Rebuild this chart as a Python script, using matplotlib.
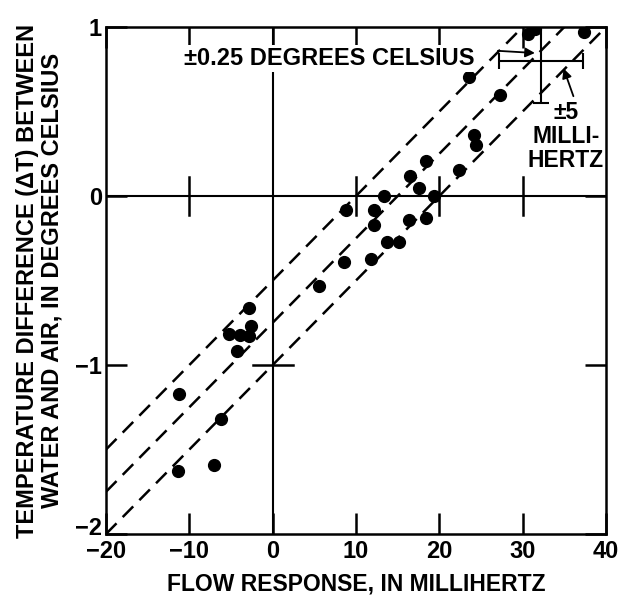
import matplotlib
matplotlib.use("Agg")
import matplotlib.pyplot as plt
import matplotlib.transforms as mtransforms

plt.rcParams['font.family'] = ['Liberation Sans', 'DejaVu Sans']
plt.rcParams['font.weight'] = 'bold'
plt.rcParams['axes.labelweight'] = 'bold'

# Observed points (flow response in mHz, temperature difference in deg C)
flow = [30.6, 31.5, 37.3, 23.6, 27.3, 24.1, 24.4, 22.3, 18.4, 16.5,
        17.5, 13.4, 19.4, 8.8, 12.1, 12.1, 16.3, 18.4, 13.7, 15.2,
        8.5, 11.8, 5.5, -2.9, -2.6, -5.2, -3.9, -2.8, -4.3, -11.3,
        -6.2, -11.4, -7.0]
dtemp = [0.96, 0.99, 0.97, 0.705, 0.595, 0.36, 0.30, 0.156, 0.21, 0.116,
         0.05, 0.0, 0.0, -0.08, -0.08, -0.17, -0.14, -0.13, -0.27, -0.27,
         -0.39, -0.375, -0.53, -0.665, -0.77, -0.815, -0.82, -0.83, -0.92, -1.17,
         -1.32, -1.63, -1.59]

# Reference lines: dT = slope * flow + offset
slope = 0.05
offsets = [-0.5, -0.75, -1.0]
line_x = [-20, 40]

x_ticks = [-20, -10, 0, 10, 20, 30, 40]
y_ticks = [-2, -1, 0, 1]

fig = plt.figure(figsize=(6.24, 5.98), dpi=100)
ax = fig.add_axes([106 / 624, 1 - 534 / 598, 500 / 624, 507 / 598])

for off in offsets:
    ax.plot(line_x, [slope * x + off for x in line_x], color='black',
            lw=1.8, dashes=(6, 3.5), zorder=2)

# zero lines with crossing ticks
ax.axhline(0, color='black', lw=1.5, zorder=1)
ax.axvline(0, color='black', lw=1.5, zorder=1)
for xt in [-10, 10, 20, 30]:
    ax.plot([xt, xt], [-0.11, 0.11], color='black', lw=1.8, zorder=1)
ax.plot([-2.4, 2.4], [-1, -1], color='black', lw=1.8, zorder=1)

ax.plot(flow, dtemp, 'o', color='black', ms=8.5, zorder=3)

# error bar symbol
ax.errorbar(32.2, 0.80, xerr=5, yerr=0.25, color='black', lw=1.5,
            capsize=6, capthick=1.5, zorder=2)

ax.text(-10.7, 0.815, '±0.25 DEGREES CELSIUS', fontsize=17, ha='left',
        va='center', zorder=4,
        bbox=dict(facecolor='white', edgecolor='none', pad=1.5))
ax.annotate('', xy=(31.8, 0.845), xytext=(26.7, 0.86),
            arrowprops=dict(arrowstyle='-|>', color='black', lw=1.3,
                            mutation_scale=14))
ax.text(35.2, 0.56, '±5\nMILLI-\nHERTZ', fontsize=16.5, ha='center',
        va='top', linespacing=1.05, zorder=4)
ax.annotate('', xy=(34.8, 0.77), xytext=(36.2, 0.575),
            arrowprops=dict(arrowstyle='-|>', color='black', lw=1.3,
                            mutation_scale=14))

ax.set_xlim(-20, 40)
ax.set_ylim(-2, 1)
ax.set_xticks(x_ticks)
ax.set_yticks(y_ticks)
ax.tick_params(direction='in', length=15, width=1.8, top=True, right=True,
               labelsize=17, pad=4)
ax.tick_params(axis='y', pad=3)
for s in ax.spines.values():
    s.set_linewidth(1.8)

# lift the bottom y label a little so it clears the -20 label
lab = ax.get_yticklabels()[0]
lab.set_transform(lab.get_transform() +
                  mtransforms.ScaledTranslation(0, 5.5 / 72, fig.dpi_scale_trans))

ax.set_xlabel('FLOW RESPONSE, IN MILLIHERTZ', fontsize=16.5, labelpad=7)
ax.set_ylabel('TEMPERATURE DIFFERENCE (ΔT) BETWEEN\nWATER AND AIR, IN DEGREES CELSIUS',
              fontsize=17, labelpad=8, linespacing=1.1)

fig.savefig('out.png', dpi=100)
